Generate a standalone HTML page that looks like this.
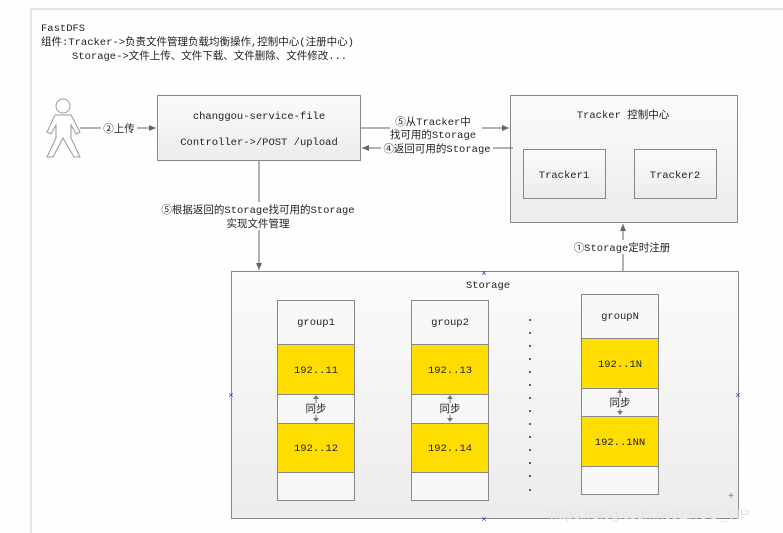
<!DOCTYPE html>
<html><head><meta charset="utf-8"><style>
html,body{margin:0;padding:0;background:#fdfdfb;}
svg{display:block}
text{font-family:"Liberation Mono","Noto Sans CJK SC",monospace;font-size:10.5px;fill:#222;}
</style></head><body>
<svg width="783" height="533" viewBox="0 0 783 533" xmlns="http://www.w3.org/2000/svg">
<defs>
<linearGradient id="g" x1="0" y1="0" x2="0" y2="1"><stop offset="0" stop-color="#fbfbfb"/><stop offset="1" stop-color="#ececec"/></linearGradient>
<marker id="a" markerWidth="8" markerHeight="8" refX="7" refY="4" orient="auto" markerUnits="userSpaceOnUse"><path d="M0,1 L7,4 L0,7 z" fill="#666"/></marker>
</defs>
<rect x="0" y="0" width="783" height="533" fill="#fdfdfb"/>
<rect x="31" y="9" width="760" height="540" fill="#fefefe" stroke="#dcdcdc" stroke-width="1.5"/>
<text x="41" y="31">FastDFS</text>
<text x="41" y="45">组件:Tracker-&gt;负责文件管理负载均衡操作,控制中心(注册中心)</text>
<text x="72" y="59">Storage-&gt;文件上传、文件下载、文件删除、文件修改...</text>
<g fill="#fff" stroke="#999" stroke-width="1">
<circle cx="63" cy="106" r="7"/>
<path d="M55,115 L71,115 L80,132 L76,134 L71,125 L71,138 L80,157 L74,157 L63,138 L53,157 L47,157 L56,138 L56,125 L51,134 L47,132 Z"/>
</g>
<rect x="157.5" y="95.5" width="203" height="65" fill="url(#g)" stroke="#888"/>
<text x="259" y="119" text-anchor="middle">changgou-service-file</text>
<text x="259" y="145" text-anchor="middle">Controller-&gt;/POST /upload</text>
<line x1="80" y1="128" x2="156" y2="128" stroke="#666" marker-end="url(#a)"/>
<rect x="101" y="121" width="36" height="14" fill="#fefefe"/>
<text x="119" y="132" text-anchor="middle">②上传</text>
<rect x="510.5" y="95.5" width="227" height="127" fill="url(#g)" stroke="#888"/>
<text x="623" y="118" text-anchor="middle">Tracker  控制中心</text>
<rect x="523.5" y="149.5" width="82" height="49" fill="url(#g)" stroke="#888"/>
<text x="564" y="178" text-anchor="middle">Tracker1</text>
<rect x="634.5" y="149.5" width="82" height="49" fill="url(#g)" stroke="#888"/>
<text x="675" y="178" text-anchor="middle">Tracker2</text>
<line x1="361" y1="128" x2="509" y2="128" stroke="#666" marker-end="url(#a)"/>
<rect x="390" y="114" width="92" height="28" fill="#fefefe"/>
<text x="433" y="125" text-anchor="middle">⑤从Tracker中</text>
<text x="433" y="138" text-anchor="middle">找可用的Storage</text>
<line x1="513" y1="148" x2="362" y2="148" stroke="#666" marker-end="url(#a)"/>
<rect x="381" y="142" width="112" height="13" fill="#fefefe"/>
<text x="437" y="152" text-anchor="middle">④返回可用的Storage</text>
<line x1="259" y1="161" x2="259" y2="270" stroke="#666" marker-end="url(#a)"/>
<rect x="158" y="202" width="202" height="28" fill="#fefefe"/>
<text x="258" y="213" text-anchor="middle">⑤根据返回的Storage找可用的Storage</text>
<text x="258" y="227" text-anchor="middle">实现文件管理</text>
<line x1="623" y1="271" x2="623" y2="224" stroke="#666" marker-end="url(#a)"/>
<rect x="572" y="240" width="100" height="14" fill="#fefefe"/>
<text x="622" y="251" text-anchor="middle">①Storage定时注册</text>
<rect x="231.5" y="271.5" width="507" height="247" fill="url(#g)" stroke="#888"/>
<text x="488" y="288" text-anchor="middle">Storage</text>
<text x="484" y="276" text-anchor="middle" style="fill:#33c;font-size:9px">×</text>
<text x="484" y="522" text-anchor="middle" style="fill:#33c;font-size:9px">×</text>
<text x="231" y="398" text-anchor="middle" style="fill:#33c;font-size:9px">×</text>
<text x="738" y="398" text-anchor="middle" style="fill:#33c;font-size:9px">×</text>
<text x="731" y="499" text-anchor="middle" style="fill:#48c;font-size:10px">+</text>
<g stroke="#888">
<rect x="277.5" y="300.5" width="77" height="200" fill="#f8f8f8"/>
<rect x="277.5" y="344.5" width="77" height="50" fill="#ffdd00"/>
<rect x="277.5" y="423.5" width="77" height="49" fill="#ffdd00"/>
<rect x="411.5" y="300.5" width="77" height="200" fill="#f8f8f8"/>
<rect x="411.5" y="344.5" width="77" height="50" fill="#ffdd00"/>
<rect x="411.5" y="423.5" width="77" height="49" fill="#ffdd00"/>
<rect x="581.5" y="294.5" width="77" height="200" fill="#f8f8f8"/>
<rect x="581.5" y="338.5" width="77" height="50" fill="#ffdd00"/>
<rect x="581.5" y="416.5" width="77" height="50" fill="#ffdd00"/>
</g>
<g stroke="#777">
<line x1="316" y1="396" x2="316" y2="421"/>
<line x1="450" y1="396" x2="450" y2="421"/>
<line x1="620" y1="390" x2="620" y2="414"/>
</g>
<rect x="304" y="403" width="24" height="12" fill="#f8f8f8"/>
<rect x="438" y="403" width="24" height="12" fill="#f8f8f8"/>
<rect x="608" y="397" width="24" height="12" fill="#f8f8f8"/>
<text x="316" y="412" text-anchor="middle">同步</text>
<text x="450" y="412" text-anchor="middle">同步</text>
<text x="620" y="406" text-anchor="middle">同步</text>
<text x="316" y="325" text-anchor="middle">group1</text>
<text x="316" y="373" text-anchor="middle">192..11</text>
<text x="316" y="451" text-anchor="middle">192..12</text>
<text x="450" y="325" text-anchor="middle">group2</text>
<text x="450" y="373" text-anchor="middle">192..13</text>
<text x="450" y="451" text-anchor="middle">192..14</text>
<text x="620" y="319" text-anchor="middle">groupN</text>
<text x="620" y="367" text-anchor="middle">192..1N</text>
<text x="620" y="445" text-anchor="middle">192..1NN</text>
<g fill="#777">
<path d="M316,395 l-3,4 h6 z M316,422 l-3,-4 h6 z"/>
<path d="M450,395 l-3,4 h6 z M450,422 l-3,-4 h6 z"/>
<path d="M620,389 l-3,4 h6 z M620,415 l-3,-4 h6 z"/>
</g>
<g fill="#333">
<circle cx="530" cy="320" r="1"/><circle cx="530" cy="333" r="1"/><circle cx="530" cy="346" r="1"/><circle cx="530" cy="359" r="1"/><circle cx="530" cy="372" r="1"/><circle cx="530" cy="385" r="1"/><circle cx="530" cy="398" r="1"/><circle cx="530" cy="411" r="1"/><circle cx="530" cy="424" r="1"/><circle cx="530" cy="437" r="1"/><circle cx="530" cy="450" r="1"/><circle cx="530" cy="463" r="1"/><circle cx="530" cy="476" r="1"/><circle cx="530" cy="490" r="1"/>
</g>
<text x="550" y="519" style="fill:#e4e4e4;font-family:'Liberation Sans',sans-serif;font-size:14px">https://blog.csdn.net/ZHOU_VIP</text>
</svg>
</body></html>
